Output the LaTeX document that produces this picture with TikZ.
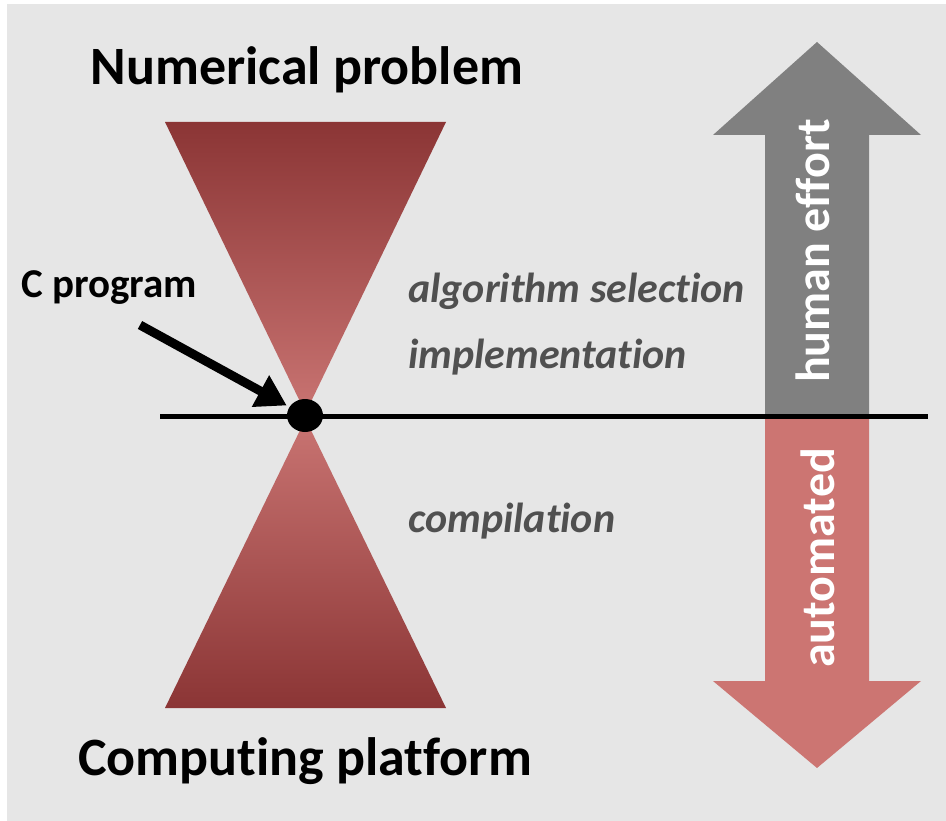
\documentclass[tikz,border=0pt]{standalone}
\usepackage{fontspec}
\setmainfont[Ligatures=NoCommon]{Carlito}
\usetikzlibrary{arrows.meta,shapes.geometric}

\definecolor{bggray}{HTML}{E6E6E6}
\definecolor{conedark}{HTML}{8B3535}
\definecolor{conelight}{HTML}{C97472}
\definecolor{autored}{HTML}{CC7572}
\definecolor{effortgray}{HTML}{808080}
\definecolor{stepgray}{HTML}{505050}

\begin{document}
\begin{tikzpicture}[x=1pt,y=-1pt,
      every node/.style={inner sep=0pt},
      title/.style={font=\fontsize{54}{60}\selectfont\bfseries},
      phase/.style={font=\fontsize{42}{48}\selectfont\bfseries\itshape,
                    text=stepgray,anchor=west},
      side/.style={font=\fontsize{48}{54}\selectfont\bfseries,
                   text=white,rotate=90},
      pointer/.style={draw,line width=9pt,
                      -{Triangle[length=30pt,width=34pt]}},
    ]
      \useasboundingbox (0,0) rectangle (946,821);
      \fill[bggray] (7,4) rectangle (946,821);

      % hourglass
      \shade[top color=conedark,bottom color=conelight]
        (165,122) -- (446,122) -- (305.5,413) -- cycle;
      \shade[top color=conelight,bottom color=conedark]
        (305.5,419) -- (446,708) -- (165,708) -- cycle;

      % effort arrows
      \fill[effortgray] (765,416) -- (765,135) -- (713,135) -- (817,42)
        -- (921,135) -- (869,135) -- (869,416) -- cycle;
      \fill[autored] (765,416) -- (765,681) -- (713,681) -- (817,768)
        -- (921,681) -- (869,681) -- (869,416) -- cycle;
      \node[side] (effort) at (813,251) {human effort};
      \node[side] (auto) at (818,558) {automated};

      \coordinate (lineL) at (160,416.5);
      \coordinate (lineR) at (928,416.5);
      \draw[line width=5pt] (lineL) -- (lineR);
      \node[fill=black,ellipse,minimum width=36pt,minimum height=33pt]
        (dot) at (305,415.5) {};

      \node[title] (problem) at (307,70) {Numerical problem};
      \node[title] (platform) at (305,761) {Computing platform};
      \node[font=\fontsize{41}{46}\selectfont\bfseries,anchor=west]
        (cprog) at (21,288) {C program};
      \coordinate (tail) at (140,325);
      \draw[pointer,shorten >=3pt] (tail) -- (dot);

      \node[phase] (algo) at (408,291) {algorithm selection};
      \node[phase] (impl) at (408,357) {implementation};
      \node[phase] (comp) at (408,521) {compilation};
    \end{tikzpicture}
\end{document}
